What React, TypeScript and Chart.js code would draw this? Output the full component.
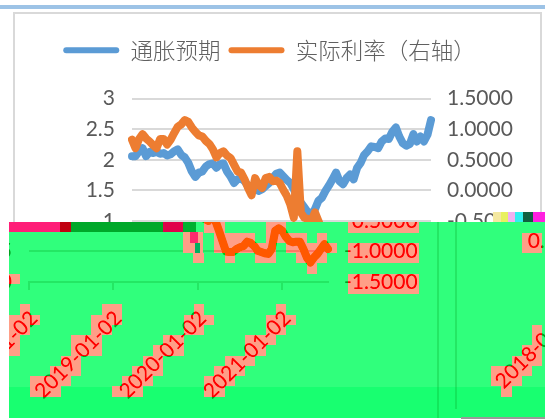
import React, { useEffect, useRef } from "react";
import { Chart, registerables } from "chart.js";

Chart.register(...registerables);

const years = ["2018", "2019", "2020", "2021"];
const months = ["01", "02", "03", "04", "05", "06", "07", "08", "09", "10", "11", "12"];
const days = ["02", "16"];
const inflationExpectation = [
  2.06, 2.06, 2.14, 2.19, 2.06, 2.13, 2.11, 2.13, 2.1, 2.11, 2.07, 2.09, 2.14, 2.17, 2.08, 2.04, 1.95, 1.81, 1.72, 1.79,
  1.81, 1.89, 1.93, 1.94, 1.87, 1.93, 1.94, 1.81, 1.73, 1.62, 1.68, 1.7, 1.65, 1.57, 1.52, 1.57, 1.49, 1.52, 1.57, 1.62,
  1.7, 1.77, 1.79, 1.73, 1.67, 1.62, 1.52, 1.38, 1.3, 1.22, 1.14, 1.11, 1.19, 1.33, 1.38, 1.49, 1.58, 1.68, 1.79, 1.65,
  1.6, 1.7, 1.76, 1.68, 1.87, 1.95, 2.08, 2.14, 2.22, 2.21, 2.19, 2.3, 2.35, 2.34, 2.46, 2.53, 2.38, 2.27, 2.23, 2.26,
  2.42, 2.3, 2.38, 2.3, 2.41, 2.65,
];
const realRate = [
  0.83, 0.69, 0.84, 0.92, 0.85, 0.8, 0.74, 0.69, 0.84, 0.84, 0.75, 0.83, 0.94, 1.04, 1.08, 1.15, 1.12, 1.03, 0.96, 0.9,
  0.88, 0.81, 0.76, 0.67, 0.54, 0.61, 0.64, 0.57, 0.53, 0.42, 0.31, 0.29, 0.18, 0.04, -0.08, 0.2, 0.09, 0.04, 0.2, 0.22,
  0.15, 0.16, 0.12, 0.01, -0.09, -0.23, -0.45, 0.64, -0.36, -0.45, -0.47, -0.5, -0.36, -0.5, -0.66, -0.83, -1.0, -1.01,
  -1.01, -0.96, -0.93, -0.91, -0.84, -0.86, -0.91, -0.99, -1.01, -1.03, -1.04, -0.96, -0.66, -0.62, -0.66, -0.76, -0.83,
  -0.85, -0.84, -0.84, -0.96, -1.1, -1.18, -1.1, -1.04, -0.96, -0.88, -0.96,
];
const seriesNames = ["通胀预期", "实际利率（右轴）"];

const categories: string[] = [];
years.forEach((y) => months.forEach((m) => days.forEach((d) => categories.push(`${y}-${m}-${d}`))));
const labels = categories.slice(0, realRate.length);

const W = 545;
const H = 419;
const SPLIT_Y = 222;
const tickFont = { family: "Lato, 'Open Sans', sans-serif", size: 21 };
const TEXT = "#595959";

const pagePlugin = {
  id: "page",
  beforeDraw(chart: any) {
    const c = chart.ctx;
    c.save();
    c.fillStyle = "#fff";
    c.fillRect(0, 0, W, H);
    c.fillStyle = "#9DC3E6";
    c.fillRect(0, 5, W, 4);
    c.strokeStyle = "#D9D9D9";
    c.lineWidth = 2;
    c.strokeRect(14, 13, 527, 430);
    c.restore();
  },
  afterDraw(chart: any) {
    const c = chart.ctx;
    const img = c.getImageData(0, 0, W, H);
    const d = img.data;
    const src = new Uint8ClampedArray(d);
    const blocks = new Map<string, number>();
    const BS = 10.25;
    const key = (x: number, y: number) => `${Math.floor((x - 9) / BS)}_${Math.floor((y - SPLIT_Y) / BS)}`;
    const sample = (x: number, y: number) => {
      const wrapped = x >= 442;
      const sx = wrapped ? x - 442 : x + 103;
      const sy = wrapped ? y + 10 : y;
      if (sx >= W || sy >= H) return [255, 255, 255];
      const i = (sy * W + sx) * 4;
      return [src[i], src[i + 1], src[i + 2]];
    };
    for (let y = SPLIT_Y; y < H; y++) {
      for (let x = 9; x < W; x++) {
        const [r, g, b] = sample(x, y);
        const lum = 0.3 * r + 0.59 * g + 0.11 * b;
        if (lum < 170 || r - b > 60) {
          const k = key(x, y);
          blocks.set(k, (blocks.get(k) || 0) + 1);
        }
      }
    }
    for (let y = SPLIT_Y; y < H; y++) {
      for (let x = 0; x < W; x++) {
        const i = (y * W + x) * 4;
        d[i + 3] = 255;
        if (x < 9 || y >= 418) {
          d[i] = d[i + 1] = d[i + 2] = 255;
          continue;
        }
        const [r, g, b] = sample(x, y);
        const lum = 0.3 * r + 0.59 * g + 0.11 * b;
        const salmon = (blocks.get(key(x, y)) || 0) >= 6;
        const bg = salmon ? [255, 158, 135] : y > 386 ? [24, 255, 112] : [48, 255, 124];
        let ink = salmon ? [255, 0, 0] : [0, 160, 30];
        let t = Math.min(1, (255 - lum) / 150);
        if (r - b > 60) {
          ink = salmon ? [255, 88, 0] : [0, 200, 20];
          t = Math.min(1, (r - b) / 170);
        }
        d[i] = bg[0] + (ink[0] - bg[0]) * t;
        d[i + 1] = bg[1] + (ink[1] - bg[1]) * t;
        d[i + 2] = bg[2] + (ink[2] - bg[2]) * t;
      }
    }
    c.putImageData(img, 0, 0);
    const noise: [string, number, number, number, number][] = [
      ["#FF1E78", 9, 222, 51, 10],
      ["#C00010", 60, 222, 11, 10],
      ["#00A82A", 71, 222, 92, 10],
      ["#E0004A", 163, 222, 20, 10],
      ["#00B030", 183, 222, 13, 10],
      ["#FF9E87", 183, 232, 20, 21],
      ["#FF2A6E", 190, 232, 8, 11],
      ["#00B060", 195, 243, 5, 10],
      ["#FF9E87", 193, 253, 11, 10],
      ["#F4E8A0", 493, 212, 8, 10],
      ["#E8F060", 501, 212, 7, 10],
      ["#F0B0F0", 508, 212, 7, 10],
      ["#30F0F0", 515, 212, 8, 10],
      ["#106040", 523, 212, 10, 10],
      ["#FF20E0", 533, 212, 12, 10],
      ["#9A9A9A", 461, 417, 84, 2],
    ];
    c.save();
    noise.forEach(([col, x, y, w, h]) => {
      c.fillStyle = col;
      c.fillRect(x, y, w, h);
    });
    c.restore();
  },
};

export default function App() {
  const ref = useRef<HTMLCanvasElement | null>(null);
  useEffect(() => {
    const chart = new Chart(ref.current as HTMLCanvasElement, {
      type: "line",
      plugins: [pagePlugin],
      data: {
        labels,
        datasets: [
          {
            label: seriesNames[0],
            data: inflationExpectation,
            yAxisID: "y",
            borderColor: "#5B9BD5",
            backgroundColor: "#5B9BD5",
            order: 1,
          },
          {
            label: seriesNames[1],
            data: realRate,
            yAxisID: "y1",
            borderColor: "#ED7D31",
            backgroundColor: "#ED7D31",
            order: 0,
          },
        ],
      },
      options: {
        responsive: false,
        animation: false,
        devicePixelRatio: 1,
        layout: { padding: { top: 31, right: 6, left: 0, bottom: 0 } },
        elements: {
          point: { radius: 0 },
          line: { borderWidth: 8, tension: 0, borderJoinStyle: "round", borderCapStyle: "round" },
        },
        plugins: {
          tooltip: { enabled: false },
          subtitle: { display: true, text: " ", weight: 500, font: { size: 1 }, padding: { top: 0, bottom: 26 } },
          legend: {
            position: "top",
            weight: 3000,
            labels: {
              color: "#606060",
              font: { family: "'Noto Sans CJK SC', sans-serif", size: 22.5, weight: "300" },
              boxWidth: 56,
              boxHeight: 6,
              padding: 8,
              useBorderRadius: true,
              borderRadius: 3,
              sort: (a: any, b: any) => a.datasetIndex - b.datasetIndex,
              generateLabels(chart: any) {
                return Chart.defaults.plugins.legend.labels.generateLabels(chart).map((it: any) => ({ ...it, lineWidth: 0 }));
              },
            },
          },
        },
        scales: {
          x: {
            grid: { drawOnChartArea: false, color: "#D9D9D9", lineWidth: 2, tickLength: 8, tickColor: "#D9D9D9" },
            border: { display: true, color: "#D9D9D9", width: 2 },
            afterFit(s: any) {
              s.height = H - 282;
            },
            afterBuildTicks(s: any) {
              s.ticks = s.ticks.filter((t: any) => t.value % 24 === 0);
            },
            ticks: {
              autoSkip: false,
              minRotation: 45,
              maxRotation: 45,
              color: TEXT,
              font: tickFont,
              padding: 16,
              labelOffset: 5,
              callback(this: any, v: any) {
                return this.getLabelForValue(v);
              },
            },
          },
          y: {
            position: "left",
            min: 0,
            max: 3,
            afterFit(s: any) {
              s.width = 132;
            },
            grid: { color: "#D9D9D9", lineWidth: 2, drawTicks: false },
            border: { display: false },
            ticks: { stepSize: 0.5, color: TEXT, font: tickFont, padding: 17, callback: (v: any) => String(v) },
          },
          y1: {
            position: "right",
            min: -1.5,
            max: 1.5,
            afterFit(s: any) {
              s.width = 108;
            },
            grid: { display: false, drawTicks: false },
            border: { display: false },
            ticks: {
              stepSize: 0.5,
              color: TEXT,
              font: tickFont,
              padding: 16,
              callback: (v: any) => Number(v).toFixed(4),
            },
          },
        },
      },
    } as any);
    return () => chart.destroy();
  }, []);
  return (
    <canvas
      ref={ref}
      width={W}
      height={H}
      style={{ position: "absolute", left: 0, top: 0, width: W, height: H, display: "block" }}
    />
  );
}
